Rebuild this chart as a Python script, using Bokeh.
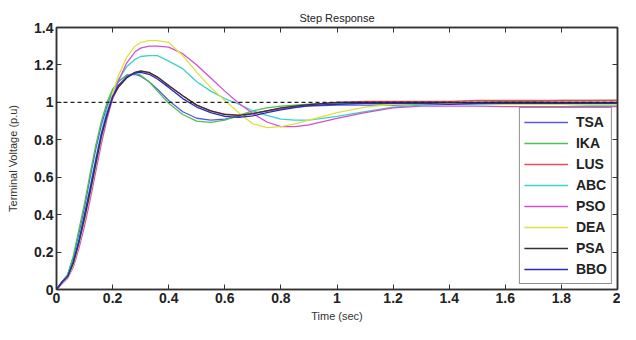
from bokeh.plotting import figure
from bokeh.models import Range1d, FixedTicker, LinearAxis, Span, Legend, LegendItem
from bokeh.embed import file_html
from bokeh.resources import INLINE

t = [0, 0.02, 0.04, 0.06, 0.08, 0.1, 0.12, 0.14, 0.16, 0.18, 0.2, 0.22, 0.25, 0.28, 0.3,
     0.33, 0.36, 0.4, 0.45, 0.5, 0.55, 0.6, 0.65, 0.7, 0.75, 0.8, 0.85, 0.9, 1.0, 1.1,
     1.2, 1.3, 1.4, 1.5, 1.6, 1.7, 1.8, 1.9, 2.0]

tsa = [0, 0.04, 0.08, 0.17, 0.30, 0.44, 0.60, 0.75, 0.88, 0.98, 1.06, 1.11, 1.145, 1.15, 1.14,
       1.11, 1.07, 1.01, 0.95, 0.915, 0.905, 0.91, 0.925, 0.94, 0.955, 0.965, 0.975, 0.98, 0.985, 0.985,
       0.985, 0.99, 0.99, 0.99, 0.99, 0.99, 0.99, 0.99, 0.99]
ika = [0, 0.04, 0.08, 0.18, 0.32, 0.46, 0.62, 0.77, 0.90, 1.00, 1.07, 1.11, 1.145, 1.155, 1.145,
       1.11, 1.06, 0.995, 0.935, 0.90, 0.893, 0.905, 0.93, 0.955, 0.97, 0.98, 0.985, 0.99, 0.995, 0.995,
       0.99, 0.99, 0.995, 1.0, 1.005, 1.005, 1.01, 1.01, 1.012]
lus = [0, 0.04, 0.07, 0.14, 0.25, 0.38, 0.52, 0.67, 0.81, 0.93, 1.02, 1.08, 1.135, 1.16, 1.165,
       1.158, 1.135, 1.09, 1.035, 0.985, 0.955, 0.937, 0.932, 0.94, 0.955, 0.968, 0.978, 0.988, 1.0, 1.005,
       1.005, 1.005, 1.005, 1.01, 1.01, 1.01, 1.01, 1.01, 1.01]
abc = [0, 0.04, 0.075, 0.15, 0.27, 0.40, 0.55, 0.70, 0.84, 0.96, 1.05, 1.12, 1.19, 1.23, 1.245,
       1.25, 1.25, 1.22, 1.18, 1.11, 1.06, 1.02, 0.99, 0.955, 0.93, 0.91, 0.905, 0.905, 0.925, 0.95,
       0.975, 0.985, 0.99, 0.99, 0.99, 0.99, 0.99, 0.985, 0.985]
pso = [0, 0.03, 0.06, 0.12, 0.22, 0.34, 0.48, 0.63, 0.78, 0.91, 1.02, 1.11, 1.21, 1.27, 1.29,
       1.30, 1.30, 1.295, 1.26, 1.20, 1.13, 1.06, 0.995, 0.94, 0.895, 0.87, 0.87, 0.88, 0.915, 0.945,
       0.97, 0.98, 0.98, 0.98, 0.977, 0.977, 0.977, 0.977, 0.977]
dea = [0, 0.035, 0.065, 0.13, 0.24, 0.37, 0.51, 0.66, 0.81, 0.94, 1.05, 1.14, 1.24, 1.30, 1.32,
       1.33, 1.33, 1.32, 1.25, 1.16, 1.08, 1.01, 0.945, 0.885, 0.865, 0.87, 0.885, 0.905, 0.945, 0.975,
       0.99, 0.995, 0.995, 0.995, 0.99, 0.99, 0.99, 0.99, 0.99]
psa = [0, 0.04, 0.07, 0.14, 0.25, 0.38, 0.52, 0.67, 0.82, 0.93, 1.03, 1.08, 1.13, 1.16, 1.168,
       1.16, 1.135, 1.09, 1.035, 0.985, 0.955, 0.935, 0.93, 0.94, 0.955, 0.97, 0.98, 0.988, 1.0, 1.0,
       1.0, 1.0, 1.0, 1.0, 1.0, 1.0, 1.0, 1.0, 1.0]
bbo = [0, 0.04, 0.07, 0.15, 0.26, 0.40, 0.54, 0.69, 0.83, 0.94, 1.03, 1.09, 1.135, 1.158, 1.16,
       1.15, 1.125, 1.08, 1.02, 0.975, 0.945, 0.925, 0.92, 0.928, 0.945, 0.96, 0.972, 0.982, 0.99, 0.995,
       0.995, 0.995, 0.99, 0.995, 0.995, 0.995, 0.995, 0.995, 0.995]

names = ["TSA", "IKA", "LUS", "ABC", "PSO", "DEA", "PSA", "BBO"]
series = [tsa, ika, lus, abc, pso, dea, psa, bbo]
colors = ["#5a5ae0", "#4fbf4f", "#f04a5a", "#3fcfcf", "#d050d0", "#e0e040", "#333333", "#2a2ab8"]

x_ticks = [0, 0.2, 0.4, 0.6, 0.8, 1.0, 1.2, 1.4, 1.6, 1.8, 2.0]
x_labels = ["0", "0.2", "0.4", "0.6", "0.8", "1", "1.2", "1.4", "1.6", "1.8", "2"]
y_ticks = [0, 0.2, 0.4, 0.6, 0.8, 1.0, 1.2, 1.4]
y_labels = ["0", "0.2", "0.4", "0.6", "0.8", "1", "1.2", "1.4"]

p = figure(width=620, height=324, output_backend="svg", toolbar_location=None,
           x_range=Range1d(0, 2), y_range=Range1d(0, 1.4),
           title="Step Response", min_border_left=56, min_border_right=3,
           min_border_top=27, min_border_bottom=34)
p.title.align = "center"
p.title.text_font = "Liberation Sans"
p.title.text_font_size = "11px"
p.title.text_font_style = "normal"
p.title.text_color = "#222222"
p.title.offset = 0
p.title.standoff = 8

p.xgrid.visible = False
p.ygrid.visible = False
p.outline_line_color = "#333333"
p.outline_line_width = 1.5

def style_axis(ax, ticks, labels, show_labels=True):
    ax.ticker = FixedTicker(ticks=ticks)
    ax.major_label_overrides = {tk: lb for tk, lb in zip(ticks, labels)}
    ax.major_tick_in = 5
    ax.major_tick_out = 0
    ax.minor_tick_line_color = None
    ax.axis_line_color = "#333333"
    ax.axis_line_width = 1.5
    ax.major_tick_line_color = "#333333"
    ax.major_label_text_font = "Liberation Sans"
    ax.major_label_text_font_style = "bold"
    ax.major_label_text_font_size = "14px"
    ax.major_label_text_color = "#222222"
    ax.major_label_standoff = 3
    if not show_labels:
        ax.major_label_text_alpha = 0
        ax.major_label_text_font_size = "1px"

style_axis(p.xaxis[0], x_ticks, x_labels)
style_axis(p.yaxis[0], y_ticks, y_labels)
p.xaxis.axis_label = "Time (sec)"
p.yaxis.axis_label = "Terminal Voltage (p.u)"
for ax in (p.xaxis[0], p.yaxis[0]):
    ax.axis_label_text_font = "Liberation Sans"
    ax.axis_label_text_font_style = "normal"
    ax.axis_label_text_font_size = "11px"
    ax.axis_label_text_color = "#333333"
p.xaxis[0].axis_label_standoff = 4
p.yaxis[0].axis_label_standoff = 12

top = LinearAxis()
style_axis(top, x_ticks, x_labels, show_labels=False)
p.add_layout(top, "above")
right = LinearAxis()
style_axis(right, y_ticks, y_labels, show_labels=False)
p.add_layout(right, "right")

p.add_layout(Span(location=1, dimension="width", line_color="#222222",
                  line_dash="4 3", line_width=1.2))

items = []
for name, ys, c in zip(names, series, colors):
    r = p.line(t, ys, line_color=c, line_width=1.3)
    items.append(LegendItem(label=name, renderers=[r]))

legend = Legend(items=items, location="bottom_right")
legend.border_line_color = "#222222"
legend.border_line_width = 1.5
legend.background_fill_color = "white"
legend.background_fill_alpha = 1
legend.label_text_font = "Liberation Sans"
legend.label_text_font_style = "bold"
legend.label_text_font_size = "14px"
legend.label_text_color = "#222222"
legend.glyph_width = 44
legend.glyph_height = 20
legend.label_height = 20
legend.spacing = 1
legend.padding = 4
legend.margin = 5
legend.label_standoff = 8
p.add_layout(legend)

open("out.html", "w").write(file_html(p, INLINE))
